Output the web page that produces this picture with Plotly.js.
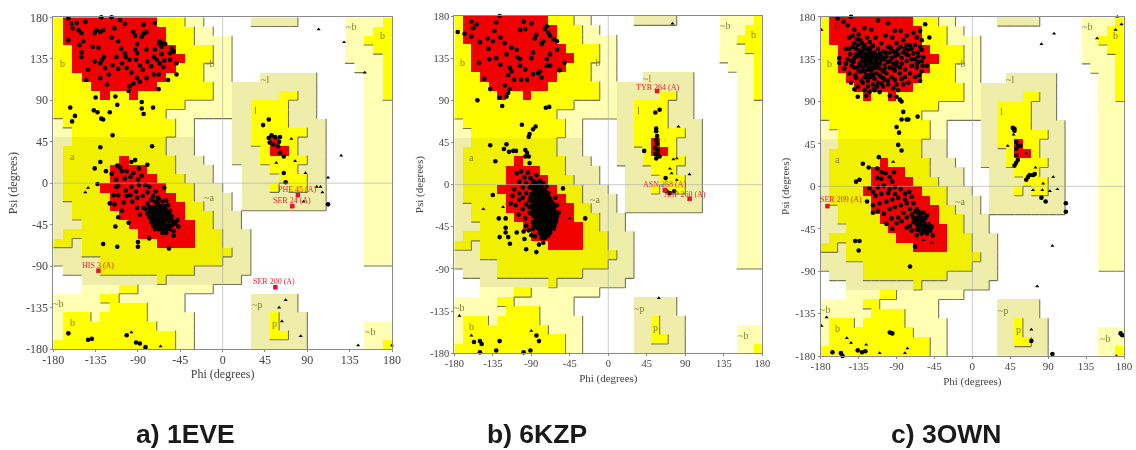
<!DOCTYPE html>
<html><head><meta charset="utf-8">
<script src="https://cdn.plot.ly/plotly-3.0.1.min.js"></script>
<style>html,body{margin:0;padding:0;background:#fff}#c{width:1136px;height:450px;filter:blur(0.45px)}</style>
</head><body><div id="c"></div>
<script>
// Ramachandran regions, 10-degree cells, run-length per psi row (top row = psi 170..180), phi from -180
const regionRows = [
'y1 R10 y3 p2 .5 k5 .5 p4 y1','y1 R11 y3 p2 .14 p3 y2','y1 R11 y3 p4 .12 p2 y3','y2 R11 y4 p2 .12 p3 y2',
'y2 R12 y3 p2 .12 p4 y1','y2 R11 y3 p3 .13 p3 y1','y3 R9 y4 p3 .3 k6 .5 p2 y1','y4 R7 y6 p2 k9 .5 p2 y1',
'y5 R1 y2 R1 y8 p2 k5 y2 k2 .5 p2 y1','y14 p5 k2 y4 k3 .5 p3','y12 p7 k2 y4 k3 .5 p3','p1 y12 p2 .4 k2 y4 k4 .4 p3',
'p2 y11 p2 .4 k2 y6 k2 .4 p3','k2 a10 k3 .4 k2 y2 R1 y2 k3 .4 p3','k1 a11 k3 .4 k3 y1 R2 y1 k3 .4 p3',
'k1 a6 R1 a5 k3 .3 k3 y5 k2 .4 p3','k1 a5 R4 a3 k4 .3 k3 y3 k3 .4 p3','k1 a5 R5 a3 k3 .3 k4 y3 k2 .4 p3',
'k1 a4 R7 a3 k3 .2 k3 y1 k1 y2 k2 .4 p3','k1 a5 R7 a2 k4 .1 k9 .4 p3','k2 a4 R8 a2 k3 .1 k9 .4 p3',
'k2 a5 R7 a3 k3 .13 p3','k3 a5 R7 a2 k3 .13 p3','k1 a8 R6 a3 k3 .12 p3','a2 k1 a8 R4 a3 k3 .12 p3',
'k3 a16 k2 .12 p3','k5 a13 k3 .12 p3','.1 k4 a10 k6 .15','.3 k8 a1 k8 .16','.3 p4 y2 p8 .19',
'p5 y2 p7 .7 k5 .10','p6 y4 p4 .7 k5 .10','p1 y3 p1 y5 p5 .6 k2 y1 k3 .9','p1 y10 p4 .6 k2 y1 k3 .6 p3',
'p1 y12 p2 .6 k2 y2 k2 .6 p3','y13 p2 .6 k6 .6 p2 y1'];
const regionLabels = ['a','b','~b','~l','l','~a','~b','b','~p','p','~b','~b','b','B'];
const regionLabelPhi = [-160,-170,-15,45,35,-15,-175,-160,36,55,157,136,170,-160];
const regionLabelPsi = [29,130,130,113,79,-16,-131,-151,-132,-152,-161,170,160,170];

const dotsA = [[-164,179],[-129,180],[-118,180],[-109,177],[-104,173],[-84,172],[-72,174],[-161,173],[-155,174],[-146,175],[-159,168],[-153,166],[-150,163],[-134,166],[-130,164],[-136,163],[-127,166],[-115,168],[-95,164],[-93,160],[-84,162],[-81,164],[-86,159],[-164,155],[-148,154],[-152,150],[-138,148],[-132,147],[-111,154],[-118,158],[-67,154],[-63,152],[-61,151],[-67,151],[-54,146],[-52,143],[-56,141],[-72,145],[-81,145],[-91,151],[-91,141],[-93,145],[-104,141],[-113,137],[-126,137],[-128,134],[-130,130],[-136,132],[-150,142],[-150,137],[-143,123],[-145,112],[-117,128],[-111,124],[-107,130],[-103,137],[-99,134],[-92,134],[-88,128],[-85,123],[-80,132],[-73,137],[-70,134],[-67,130],[-63,126],[-56,134],[-49,130],[-49,118],[-58,112],[-68,118],[-73,118],[-81,114],[-91,114],[-95,108],[-99,105],[-100,100],[-123,107],[-121,118],[-130,114],[-68,102],[-65,148],[-65,140],[-62,133],[-76,127],[-102,125],[-97,120],[-88,110],[-108,146],[-125,125],
[-135,93],[-114,94],[-112,85],[-162,82],[-157,73],[-160,67],[-137,79],[-133,77],[-129,70],[-127,69],[-120,77],[-86,88],[-86,81],[-84,75],[-74,82],[-117,52],[-130,39],[-75,40],[-93,25],[-97,23],[-80,20],[-130,23],[-136,16],[-124,13],[-133,-1],
[-112,19],[-109,17],[-107,13],[-102,13],[-98,7],[-95,11],[-89,16],[-104,5],[-113,4],[-111,-3],[-113,-4],[-97,-4],[-89,-2],[-82,-2],[-98,-13],[-116,-13],[-111,-13],[-102,-14],[-120,-22],[-115,-23],[-105,-21],[-96,-20],[-91,-16],[-91,-27],[-84,-27],[-78,-4],[-74,-14],[-71,-9],[-62,-5],[-69,-16],[-114,-47],[-100,-43],[-111,-37],[-90,-64],[-90,-69],[-127,-66],[-112,-69],[-57,-71],[-78,-60],[-52,-57],[-47,-47],
[-80,-22],[-76,-18],[-72,-20],[-68,-17],[-64,-20],[-60,-19],[-82,-28],[-78,-26],[-74,-26],[-70,-24],[-66,-25],[-62,-25],[-58,-24],[-56,-30],[-60,-30],[-64,-30],[-68,-30],[-72,-31],[-76,-32],[-80,-33],[-78,-37],[-74,-36],[-70,-36],[-66,-35],[-62,-35],[-58,-35],[-54,-36],[-56,-41],[-60,-40],[-64,-40],[-68,-41],[-72,-41],[-76,-42],[-74,-46],[-70,-46],[-66,-45],[-62,-45],[-58,-45],[-54,-46],[-50,-44],[-56,-50],[-60,-50],[-64,-50],[-68,-50],[-72,-50],[-64,-54],[-60,-54],[-68,-34],[-70,-28],[-66,-38],[-62,-38],[-67,-43],[-63,-43],[-59,-38],[-71,-39],[-52,-52],[-48,-40],
[-72,-34],[-75,-39],[-69,-44],[-65,-48],[-61,-48],[-57,-48],[-65,-33],[-61,-33],[-57,-33],[-65,-28],[-61,-28],[-73,-28],[-77,-29],[-69,-22],[-73,-44],[-55,-39],[-52,-42],[-90,4],[-86,8],[-118,10],[-92,-9],[-85,-14],[-80,-10],[-103,-8],[-107,-30],[-88,-34]];
const trisA = [[102,167],[129,153],[151,120],[126,30],[112,6],[100,-4],[104,-4],[106,-10],[88,11],[77,24],[57,22],[73,48],[86,-20],[67,-127],[60,-135],[63,-150],[83,-166],[144,-176],[180,-176],[-97,-162],[-66,-177],[-146,-10],[-143,-5]];
const lDotsA = [[49,49],[52,52],[56,50],[61,50],[50,44],[60,45],[59,40],[54,42],[61,33],[65,29],[65,11],[67,1],[43,63],[49,69],[112,-23],[-164,-163],[-143,-170],[-139,-169],[-102,-165],[-92,-173],[-88,-174],[-82,-178]];
const outliersA = ['HIS 3 (A)','SER 200 (A)','SER 24 (A)','PHE 45 (A)'];
const outPhiA = [-132,56,74,80];
const outPsiA = [-95,-113,-25,-13];
const outLabPhiA = [-132,55,74,80];
const outLabPsiA = [-89,-107,-19,-7];

const dotsB = [[-160,174],[-154,171],[-158,167],[-176,163],[-168,161],[-127,180],[-131,173],[-133,164],[-160,158],[-150,152],[-141,156],[-135,153],[-126,157],[-121,151],[-140,145],[-151,130],[-139,134],[-131,135],[-126,128],[-145,113],[-138,102],[-121,106],[-99,174],[-90,172],[-103,165],[-97,166],[-84,160],[-86,156],[-72,169],[-74,166],[-70,162],[-68,159],[-64,155],[-60,153],[-76,153],[-78,150],[-60,144],[-68,139],[-72,134],[-72,127],[-51,130],[-57,122],[-68,127],[-88,141],[-90,135],[-103,134],[-106,136],[-113,146],[-107,144],[-119,139],[-115,125],[-113,121],[-117,117],[-103,127],[-97,123],[-110,112],[-102,112],[-95,112],[-82,119],[-78,114],[-80,121],[-88,118],[-115,102],[-117,98],[-127,93],[-119,94],[-153,90],[-124,84],[-73,82],[-69,83],[-101,64],[-85,62],[-88,59],[-92,54],[-93,51],[-138,42],[-119,43],[-122,38],[-116,35],[-111,36],[-108,36],[-132,25],[-97,37],[-95,34],[-97,30],[-93,30],[-92,23],[-135,-11],[-53,-4],
[-128,-36],[-120,-36],[-120,-46],[-120,-51],[-107,-51],[-99,-50],[-127,-56],[-117,-56],[-115,-63],[-98,-58],[-96,-69],[-84,-72],[-81,-64],[-76,-62],[-27,-36],
[-107,12],[-102,14],[-104,3],[-98,8],[-94,13],[-110,-5],[-112,-12],[-104,-9],[-100,-3],[-96,2],[-91,7],[-87,3],[-84,10],[-114,-20],[-108,-22],[-104,-16],[-100,-14],[-96,-9],[-92,-3],[-105,-32],[-100,-26],[-96,-21],[-97,-36],[-92,-30],[-92,-17],[-96,-44],
[-88,4],[-84,2],[-80,4],[-76,2],[-88,-4],[-84,-5],[-80,-4],[-76,-5],[-72,-2],[-90,-10],[-86,-11],[-82,-10],[-78,-11],[-74,-10],[-70,-9],[-88,-16],[-84,-17],[-80,-16],[-76,-17],[-72,-16],[-68,-15],[-89,-22],[-85,-23],[-81,-22],[-77,-23],[-73,-22],[-69,-21],[-65,-20],[-88,-28],[-84,-29],[-80,-28],[-76,-29],[-72,-28],[-68,-27],[-64,-26],[-87,-34],[-83,-35],[-79,-34],[-75,-35],[-71,-34],[-67,-33],[-63,-32],[-85,-40],[-81,-41],[-77,-40],[-73,-41],[-69,-40],[-65,-39],[-61,-38],[-83,-46],[-79,-47],[-75,-46],[-71,-47],[-67,-46],[-63,-44],[-80,-52],[-76,-53],[-72,-52],[-68,-51],[-78,-57],[-74,-57],[-90,-54],[-93,-49],[-88,-47],[-86,-55],[-66,-22],[-62,-14],[-60,-22],[-58,-30],
[-86,-1],[-82,-1],[-78,-1],[-74,-6],[-86,-7],[-82,-7],[-78,-8],[-74,-13],[-70,-13],[-86,-13],[-82,-13],[-78,-14],[-87,-19],[-83,-19],[-79,-19],[-75,-19],[-71,-19],[-67,-18],[-87,-25],[-83,-26],[-79,-25],[-75,-26],[-71,-25],[-67,-24],[-63,-23],[-86,-31],[-82,-32],[-78,-31],[-74,-32],[-70,-31],[-66,-30],[-62,-29],[-84,-37],[-80,-38],[-76,-37],[-72,-38],[-68,-36],[-64,-35],[-60,-34],[-82,-43],[-78,-44],[-74,-43],[-70,-44],[-66,-42],[-62,-41],[-80,-49],[-76,-50],[-72,-49],[-68,-48],[-64,-47],[-76,-55],[-72,-55],[-70,-54],[-90,-1],[-91,-13],[-92,-24],[-90,-31],[-88,-40],[-87,-44]];
const trisB = [[82,62],[76,27],[80,28],[72,17],[74,12],[80,5],[95,11],[75,172],[59,-121],[-174,-140],[-160,-161],[-90,-156],[-123,-24],[-45,-36],[-146,-26]];
const lDotsB = [[55,77],[60,80],[56,60],[56,57],[57,52],[56,48],[57,44],[55,39],[58,37],[42,36],[55,33],[58,33],[60,30],[56,28],[67,7],[77,-7],[68,-7],[72,-9],[-157,-168],[-150,-167],[-148,-170],[-150,-179],[-127,-167],[-131,-177],[-99,-179],[-91,-177],[-84,-161],[-81,-167]];
const outliersB = ['TYR 264 (A)','ASN 258 (A)','ASP 260 (A)'];
const outPhiB = [57,66,95];
const outPsiB = [100,-6,-15];
const outLabPhiB = [57,66,90];
const outLabPsiB = [104,0,-10];

const dotsC = [[-144,180],[-160,178],[-56,172],[-51,158],[-136,95],[-82,79],[-84,71],[-78,71],[-76,71],[-65,74],[-90,63],[-87,57],[-88,44],[-84,38],[-111,31],[-130,24],[-123,20],[-134,7],[-138,5],
[-153,175],[-148,171],[-140,166],[-135,161],[-128,168],[-120,166],[-112,176],[-100,173],[-92,165],[-85,165],[-78,160],[-70,163],[-62,165],[-60,155],[-62,148],[-65,142],[-68,135],[-72,146],[-78,150],[-82,155],[-90,152],[-95,158],[-103,160],[-108,152],[-115,158],[-122,153],[-128,150],[-133,155],[-140,152],[-146,158],[-150,146],[-145,140],[-138,146],[-130,143],[-124,146],[-118,149],[-112,146],[-106,143],[-100,148],[-94,143],[-88,146],[-82,142],[-76,139],[-70,141],[-64,132],[-58,137],[-54,128],[-60,122],[-66,126],[-72,128],[-78,133],[-84,136],[-90,132],[-96,136],[-102,138],[-108,134],[-114,138],[-120,140],[-126,136],[-132,138],[-138,140],[-144,133],[-150,130],[-158,136],[-158,131],[-152,125],[-146,120],[-140,126],[-134,130],[-128,128],[-122,131],[-116,128],[-110,125],[-104,129],[-98,126],[-92,123],[-86,126],[-80,124],[-74,120],[-68,116],[-62,112],[-96,116],[-102,120],[-108,116],[-114,120],[-120,122],[-126,118],[-132,122],[-138,115],[-144,110],[-136,106],[-130,110],[-124,112],[-118,108],[-112,110],[-106,106],[-100,108],[-94,104],[-88,102],[-82,108],[-76,110],[-128,102],[-122,100],[-116,102],[-110,100],[-98,96],[-90,95],[-86,92],[-84,90],[-126,96],[-140,103],[-132,133],[-126,129],[-120,134],[-118,125],[-112,130],[-130,126],[-136,126],[-124,124],[-106,122],[-100,132],[-94,130],[-88,140],[-80,146],[-74,150],[-66,158],[-68,150],[-142,148],[-136,138],[-128,132],[-122,138],[-116,142],[-110,141],[-104,135],[-98,142],[-92,138],[-140,136],[-134,144],[-127,140],[-121,143],[-114,134],[-118,118],[-110,118],[-104,113],[-116,114],[-124,106],[-92,113],[-60,145],
[-137,156],[-131,152],[-125,158],[-142,160],[-136,150],[-130,148],[-125,134],[-129,137],[-133,128],[-128,122],[-122,126],[-119,130],[-115,132],[-121,147],[-127,146],[-133,141],[-124,141],[-117,137],[-111,136],[-125,115],[-121,116],[-113,106],[-108,109],[-117,103],[-132,112],[-139,118],[-143,128],[-148,135],[-60,133],[-64,138],[-59,128],[-63,118],[-90,128],[-84,130],[-78,140],
[-110,130],[-104,125],[-98,133],[-94,125],[-108,138],[-103,142],[-97,147],[-91,143],[-85,148],[-76,145],[-72,135],[-66,130],[-86,120],[-80,116],[-106,115],[-100,112],[-135,122],[-141,132],[-146,146],[-122,118],[-128,116],[-114,126],[-90,108],[-84,114],
[-113,19],[-108,15],[-113,9],[-108,8],[-103,14],[-98,10],[-93,15],[-95,5],[-92,-1],[-98,-3],[-105,1],[-112,-1],[-118,-6],[-122,-2],[-115,-10],[-108,-8],[-100,-7],[-92,-8],[-85,-3],[-80,-8],[-75,-6],[-72,-11],[-80,-14],[-88,-12],[-95,-14],[-102,-16],[-110,-18],[-118,-20],[-125,-16],[-118,-28],[-112,-26],[-105,-29],[-98,-24],[-92,-22],[-85,-20],[-78,-18],[-70,-18],[-66,-24],[-74,-24],[-82,-28],[-88,-33],[-96,-34],[-102,-40],[-95,-45],[-90,-39],[-84,-37],[-78,-33],[-72,-30],[-68,-33],[-64,-31],[-60,-28],[-56,-34],[-62,-36],[-66,-40],[-70,-38],[-74,-42],[-78,-44],[-72,-47],[-66,-46],[-60,-42],[-56,-44],[-52,-40],[-50,-47],[-54,-50],[-60,-50],[-66,-52],[-47,-52],[-48,-43],[-58,-38],[-64,-36],[-60,-33],[-58,-28],[-54,-31],[-65,-43],[-62,-47],[-58,-47],[-68,-64],
[-68,-27],[-64,-27],[-62,-32],[-57,-40],[-54,-42],[-58,-43],[-62,-40],[-66,-36],[-70,-33],[-52,-46],[-50,-42],[-56,-48],[-139,-58],[-134,-58],[-135,-68],[-74,-85]];
const trisC = [[-179,166],[-94,26],[82,151],[97,162],[172,180],[177,172],[170,166],[148,157],[49,55],[42,43],[64,35],[75,20],[96,10],[84,3],[72,-4],[83,-4],[92,-5],[101,-3],[95,-63],[77,-106],[-48,-60],[-179,-148],[-173,-139],[-149,-161],[-144,-166],[-126,-168],[-110,-177],[-80,-177],[-77,-172],[70,-152],[171,-180],[-58,-57]];
const lDotsC = [[48,62],[50,61],[50,59],[52,47],[54,43],[52,40],[57,43],[52,33],[54,28],[52,25],[50,22],[74,13],[68,12],[64,7],[66,10],[72,12],[82,-12],[87,-16],[111,-18],[111,-27],[-166,-176],[-156,-177],[-154,-180],[-136,-174],[-131,-176],[-127,-175],[-98,-155],[-95,-156],[70,-164],[95,-178],[176,-156],[178,-158]];
const outliersC = ['SER 209 (A)'];
const outPhiC = [-172];
const outPsiC = [-21];
const outLabPhiC = [-156];
const outLabPsiC = [-14];

const captions = ['a) 1EVE','b) 6KZP','c) 3OWN'];
const captionCentrePx = [185.5,537,945.5];
const tickValues = [-180,-135,-90,-45,0,45,90,135,180];
const axisTitleX = 'Phi (degrees)', axisTitleY = 'Psi (degrees)';

const W=1136,H=450;
const panels = [
 {box:[53.3,392,17.3,349], fs:12, ts:12, dots:dotsA.concat(lDotsA), tris:trisA, out:outliersA, oPhi:outPhiA, oPsi:outPsiA, lPhi:outLabPhiA, lPsi:outLabPsiA, xs:3, ys:5},
 {box:[454.3,762.3,16,353.3], fs:10.5, ts:11, dots:dotsB.concat(lDotsB), tris:trisB, out:outliersB, oPhi:outPhiB, oPsi:outPsiB, lPhi:outLabPhiB, lPsi:outLabPsiB, xs:6, ys:4},
 {box:[820.7,1124,16.7,356], fs:11, ts:11, dots:dotsC.concat(lDotsC), tris:trisC, out:outliersC, oPhi:outPhiC, oPsi:outPsiC, lPhi:outLabPhiC, lPsi:outLabPsiC, xs:6, ys:3}
];

// expand region runs: rows ordered bottom to top for the heatmap
const codeOf={'.':0,'p':1,'k':2,'y':3,'a':4,'R':5};
const rank=[0,1,1,2,2,2];
const grid = regionRows.map(r=>{const o=[];r.split(' ').forEach(t=>{const n=+t.slice(1);for(let i=0;i<n;i++)o.push(codeOf[t[0]]);});return o;}).reverse();
const cellsX=[],cellsY=[];for(let i=0;i<36;i++){cellsX.push(-175+10*i);cellsY.push(-175+10*i);}
const palette=['#ffffff','#ffffb4','#eeeeaa','#ffff00','#f0f000','#f00000'];
const cs=[];palette.forEach((c,i)=>{cs.push([i/6,c]);cs.push([(i+1)/6,c]);});
// shadow edges derived from the region grid
const edgeX=[],edgeY=[];
for(let j=0;j<36;j++)for(let i=0;i<36;i++){
  const r=rank[grid[j][i]];if(!r)continue;
  const R=-180+10*(i+1),B=-180+10*j;
  if(i<35&&rank[grid[j][i+1]]<r){edgeX.push(R,R,null);edgeY.push(B,B+10,null);}
  if(j>0&&rank[grid[j-1][i]]<r){edgeX.push(R-10,R,null);edgeY.push(B,B,null);}
}
const traces=[],annotations=[],shapes=[],layout={width:W,height:H,margin:{l:0,r:0,t:0,b:0},paper_bgcolor:'#fff',plot_bgcolor:'#fff',showlegend:false,font:{family:'"Liberation Serif",serif',color:'#444'}};
panels.forEach((p,k)=>{
  const s=k?String(k+1):'', xa='x'+s, ya='y'+s;
  traces.push({type:'heatmap',x:cellsX,y:cellsY,z:grid,zmin:0,zmax:6,colorscale:cs,showscale:false,hoverinfo:'skip',xaxis:xa,yaxis:ya,xgap:0,ygap:0});
  traces.push({type:'scatter',mode:'lines',x:edgeX,y:edgeY,line:{color:'#75755a',width:1.1},hoverinfo:'skip',xaxis:xa,yaxis:ya,connectgaps:false});
  traces.push({type:'scatter',mode:'markers',x:p.dots.map(d=>d[0]),y:p.dots.map(d=>d[1]),marker:{color:'#000',size:4.6,symbol:'circle'},xaxis:xa,yaxis:ya,cliponaxis:false});
  traces.push({type:'scatter',mode:'markers',x:p.tris.map(d=>d[0]),y:p.tris.map(d=>d[1]),marker:{color:'#000',size:3.6,symbol:'triangle-up'},xaxis:xa,yaxis:ya,cliponaxis:false});
  traces.push({type:'scatter',mode:'markers',x:p.oPhi,y:p.oPsi,marker:{color:'#e8102a',size:4.5,symbol:'square'},xaxis:xa,yaxis:ya,cliponaxis:false});
  const b=p.box;
  const ax=(dom,title,pos,stand,off)=>({domain:dom,range:[-180,180],tickvals:tickValues,ticktext:tickValues.map(String),ticks:'outside',ticklen:2,tickcolor:'#888',tickwidth:1,ticklabelstandoff:off,showgrid:false,zeroline:false,showline:true,linecolor:'#8a8a8a',linewidth:1,mirror:true,layer:'above traces',tickfont:{family:'"Liberation Serif",serif',size:p.fs,color:'#444'},title:{text:title,standoff:stand,font:{family:'"Liberation Serif",serif',size:p.ts,color:'#444'}},anchor:pos,automargin:false,fixedrange:true});
  layout['xaxis'+s]=ax([b[0]/W,b[1]/W],axisTitleX,ya,p.xs,-2);
  layout['yaxis'+s]=ax([1-b[3]/H,1-b[2]/H],axisTitleY,xa,p.ys,0);
  shapes.push({type:'line',xref:xa,yref:ya,x0:0,x1:0,y0:-180,y1:180,line:{color:'rgba(170,170,170,0.6)',width:1},layer:'above'});
  shapes.push({type:'line',xref:xa,yref:ya,x0:-180,x1:180,y0:0,y1:0,line:{color:'rgba(170,170,170,0.6)',width:1},layer:'above'});
  regionLabels.forEach((t,i)=>annotations.push({xref:xa,yref:ya,x:regionLabelPhi[i],y:regionLabelPsi[i],text:t,showarrow:false,xanchor:'center',font:{family:'"Liberation Serif",serif',size:10,color:t==='B'?'#8a1010':'#80803a'}}));
  p.out.forEach((t,i)=>annotations.push({xref:xa,yref:ya,x:p.lPhi[i],y:p.lPsi[i],text:t,showarrow:false,xanchor:'center',font:{family:'"Liberation Serif",serif',size:8,color:'#f0202a'}}));
  annotations.push({xref:'paper',yref:'paper',x:captionCentrePx[k]/W,y:1-434/H,xanchor:'center',yanchor:'middle',text:'<b>'+captions[k]+'</b>',showarrow:false,font:{family:'"Liberation Sans",Arial,sans-serif',size:26.5,color:'#1a1a1a'}});
});
layout.annotations=annotations;layout.shapes=shapes;
Plotly.newPlot('c',traces,layout,{staticPlot:true,displayModeBar:false});
</script></body></html>
